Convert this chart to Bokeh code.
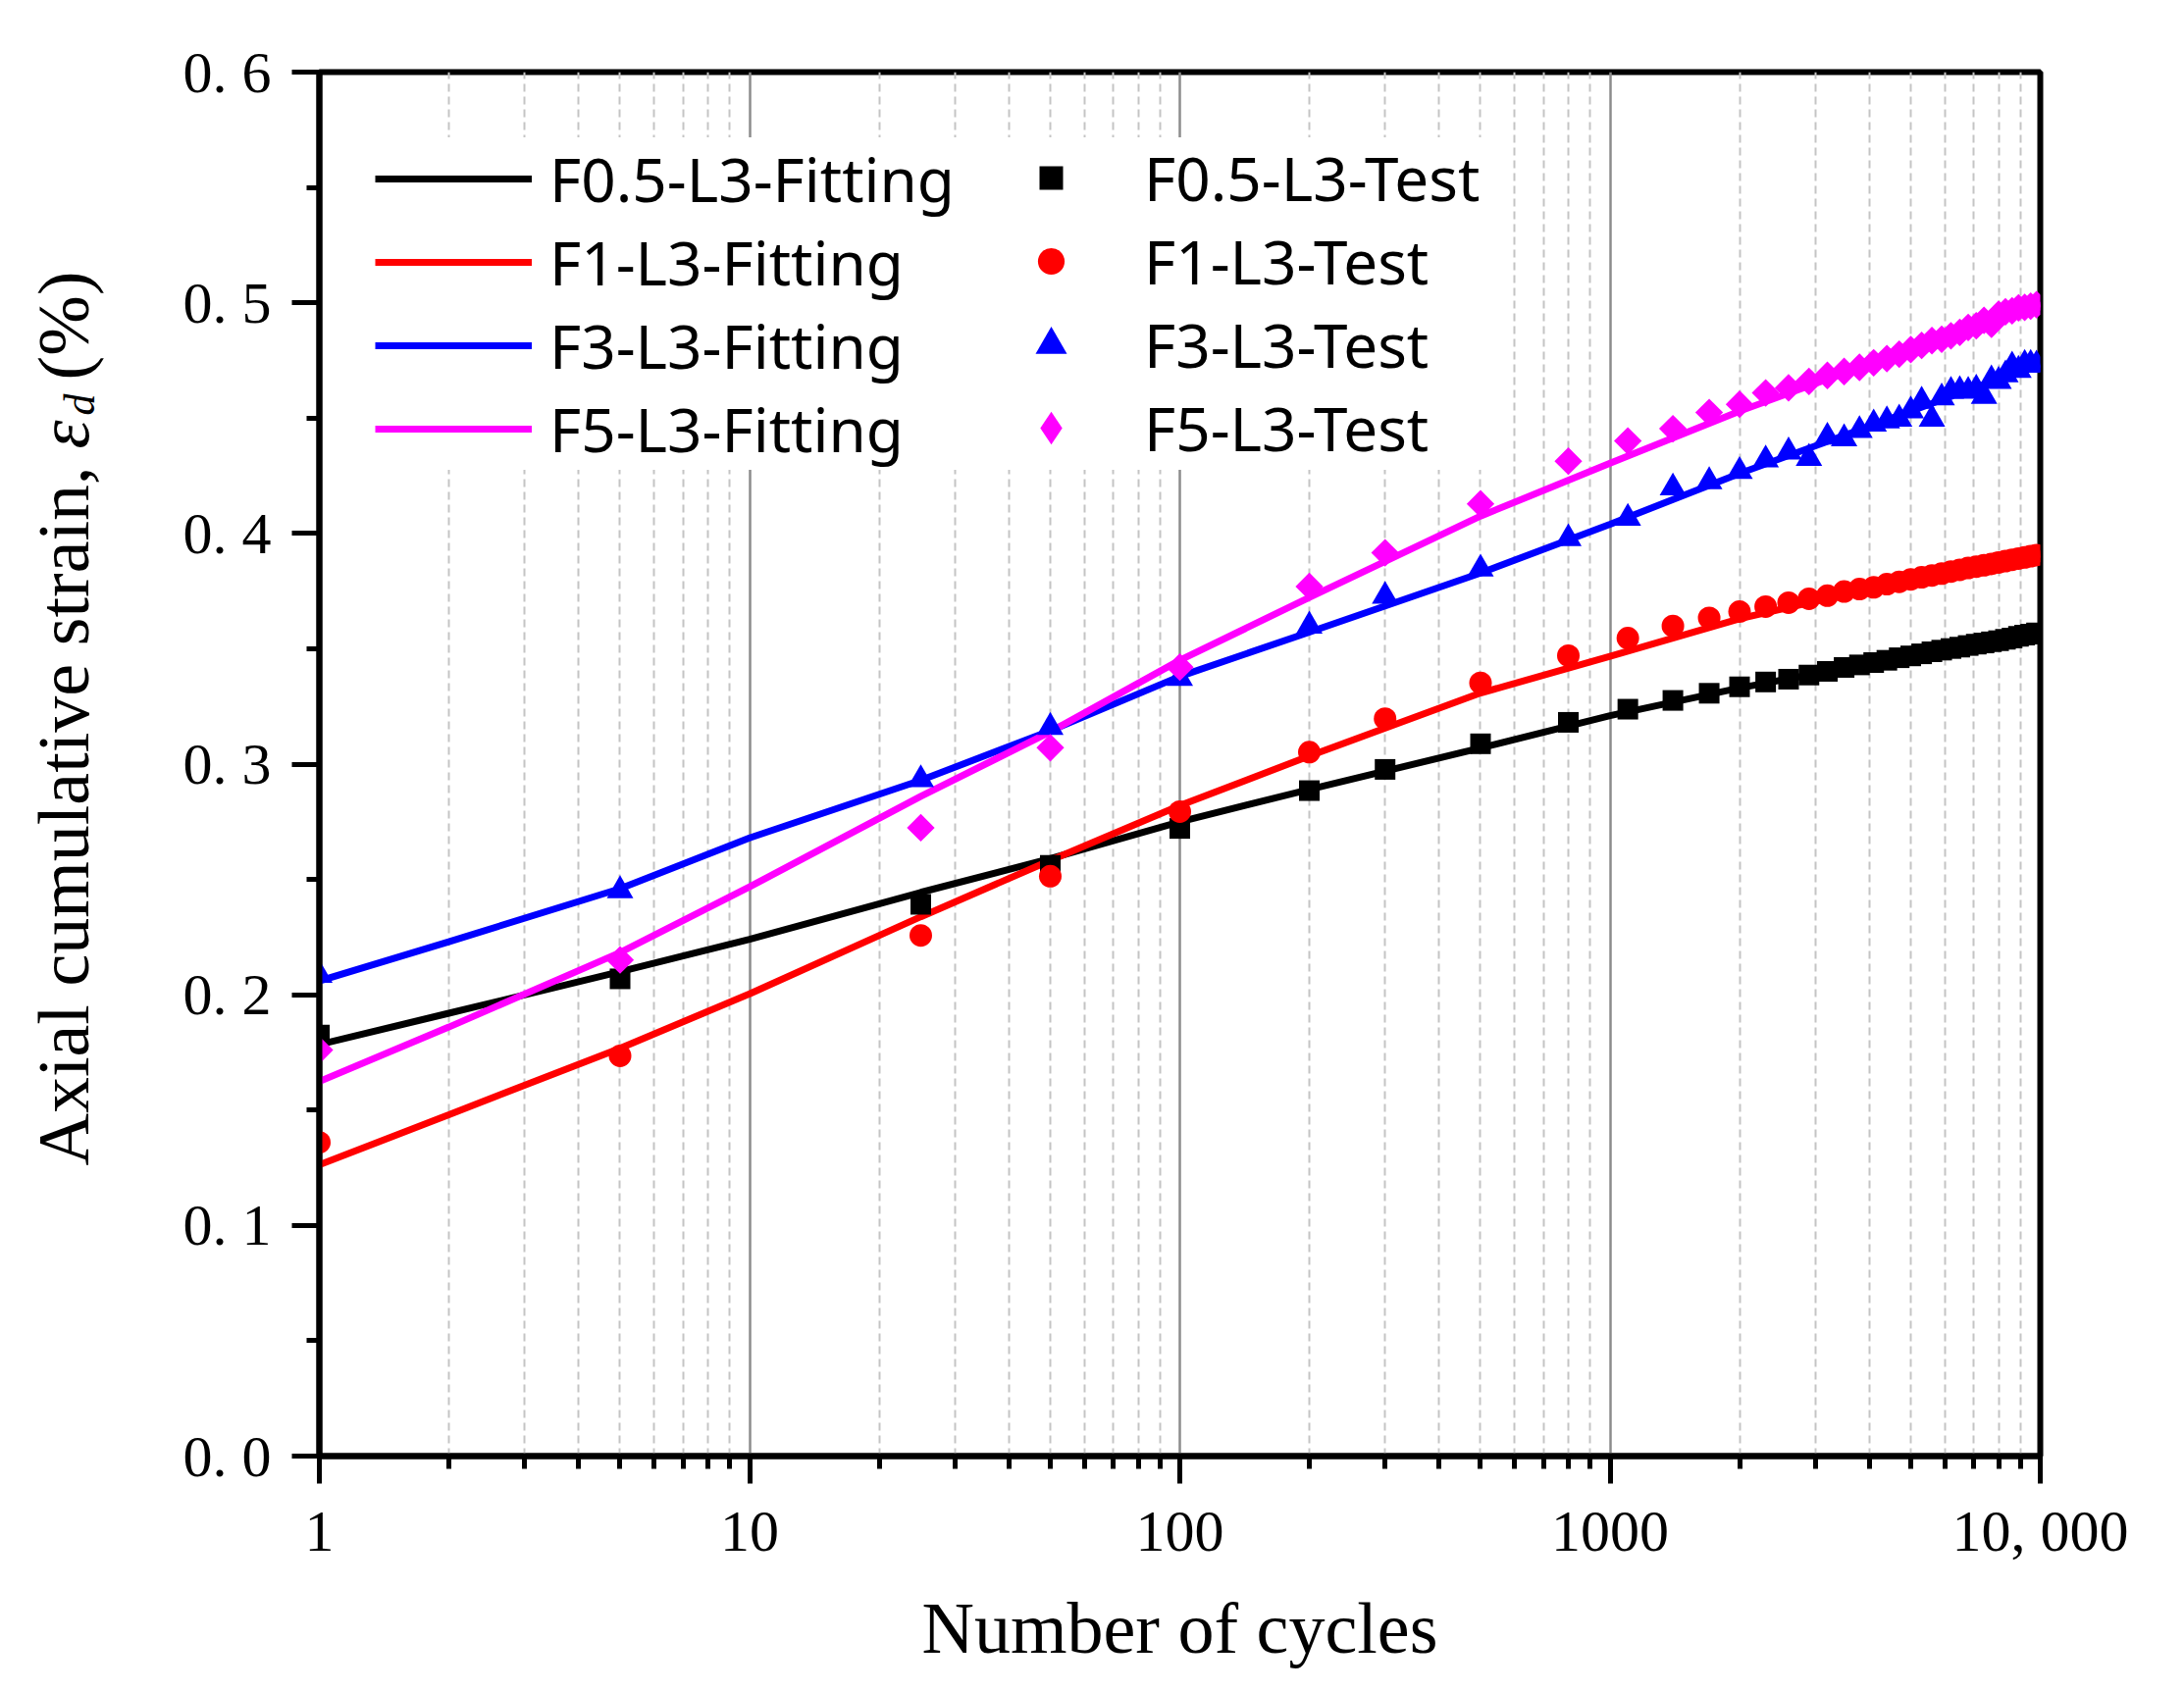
import math
from bokeh.plotting import figure
from bokeh.layouts import row
from bokeh.models import Range1d, FixedTicker, Legend, LegendItem, Label
from bokeh.embed import file_html
from bokeh.resources import INLINE

# ---------------- data ----------------
cycles_test = [1, 5, 25, 50, 100, 200, 300, 500, 800, 1100, 1400, 1700, 2000,
               2300, 2600, 2900, 3200, 3500, 3800, 4100, 4400, 4700, 5000, 5300,
               5600, 5900, 6200, 6500, 6800, 7100, 7400, 7700, 8000, 8300, 8600,
               8900, 9200, 9500, 9800]

f05_test = [0.1825, 0.2069, 0.2392, 0.2561, 0.2721, 0.2885, 0.2977, 0.3088, 0.3181,
            0.3238, 0.3276, 0.3307, 0.3335, 0.3356, 0.3368, 0.3386, 0.3402, 0.3419,
            0.3430, 0.3440, 0.3450, 0.3461, 0.3469, 0.3478, 0.3487, 0.3494, 0.3501,
            0.3507, 0.3514, 0.3520, 0.3525, 0.3530, 0.3535, 0.3541, 0.3546, 0.3554,
            0.3559, 0.3563, 0.3569]

f1_test = [0.1360, 0.1735, 0.2257, 0.2514, 0.2794, 0.3052, 0.3197, 0.3352, 0.3470,
           0.3546, 0.3599, 0.3634, 0.3661, 0.3683, 0.3700, 0.3717, 0.3730, 0.3748,
           0.3759, 0.3766, 0.3780, 0.3790, 0.3801, 0.3810, 0.3818, 0.3826, 0.3835,
           0.3842, 0.3850, 0.3856, 0.3862, 0.3868, 0.3874, 0.3880, 0.3886, 0.3891,
           0.3896, 0.3901, 0.3906]

f3_test = [0.2085, 0.2452, 0.2933, 0.3160, 0.3372, 0.3599, 0.3728, 0.3846, 0.3978,
           0.4066, 0.4198, 0.4225, 0.4269, 0.4319, 0.4354, 0.4326, 0.4418, 0.4411,
           0.4447, 0.4475, 0.4489, 0.4496, 0.4532, 0.4574, 0.4496, 0.4588, 0.4617,
           0.4620, 0.4617, 0.4626, 0.4595, 0.4666, 0.4660, 0.4688, 0.4726, 0.4708,
           0.4734, 0.4734, 0.4730]

f5_test = [0.1760, 0.2151, 0.2724, 0.3071, 0.3420, 0.3770, 0.3916, 0.4128, 0.4313,
           0.4401, 0.4454, 0.4524, 0.4560, 0.4609, 0.4631, 0.4659, 0.4685, 0.4702,
           0.4720, 0.4740, 0.4758, 0.4777, 0.4797, 0.4815, 0.4836, 0.4842, 0.4857,
           0.4872, 0.4893, 0.4900, 0.4924, 0.4907, 0.4950, 0.4961, 0.4965, 0.4978,
           0.4980, 0.4985, 0.4992]

cycles_fit = [1, 2, 5, 10, 25, 50, 100, 200, 500, 1000, 2000, 5000, 10000]
f05_fit = [0.1784, 0.192, 0.210, 0.224, 0.2444, 0.259, 0.275, 0.289, 0.307, 0.321, 0.333, 0.347, 0.357]
f1_fit = [0.1263, 0.148, 0.1768, 0.2004, 0.2338, 0.2582, 0.282, 0.3035, 0.3308, 0.3467, 0.363, 0.380, 0.391]
f3_fit = [0.206, 0.223, 0.246, 0.268, 0.293, 0.3145, 0.338, 0.3572, 0.3828, 0.404, 0.426, 0.453, 0.4735]
f5_fit = [0.1624, 0.186, 0.2183, 0.2468, 0.286, 0.314, 0.345, 0.3722, 0.4075, 0.4304, 0.453, 0.480, 0.4995]

series_names = ["F0.5-L3", "F1-L3", "F3-L3", "F5-L3"]
series_colors = ["#000000", "#ff0000", "#0000ff", "#ff00ff"]

x_major = [1, 10, 100, 1000, 10000]
x_labels = ["1", "10", "100", "1000", "10, 000"]
x_minor = [m * 10 ** e for e in range(4) for m in range(2, 10)]
y_major = [0.0, 0.1, 0.2, 0.3, 0.4, 0.5, 0.6]
y_labels = ["0. 0", "0. 1", "0. 2", "0. 3", "0. 4", "0. 5", "0. 6"]
y_minor = [0.05, 0.15, 0.25, 0.35, 0.45, 0.55]

x_title = "Number of cycles"
y_title_parts = ["Axial cumulative strain, ", "\u03b5", "d", "(%)"]

# ---------------- layout constants (pixels) ----------------
FRAME_W, FRAME_H = 1754, 1411
LEFT, TOP = 325, 73          # frame position on the page
TITLE_W = 150                # strip holding the rotated y-axis title
FIG_W, FIG_H = 2210, 1708
MAIN_W = FIG_W - TITLE_W
BOTTOM = FIG_H - TOP - FRAME_H

# ---------------- main figure ----------------
p = figure(width=MAIN_W, height=FIG_H, x_axis_type="log",
           x_range=Range1d(1, 10000), y_range=Range1d(0, 0.6),
           output_backend="svg", toolbar_location=None,
           min_border_left=LEFT - TITLE_W, min_border_right=MAIN_W - (LEFT - TITLE_W) - FRAME_W,
           min_border_top=TOP, min_border_bottom=BOTTOM)
p.background_fill_color = "white"
p.border_fill_color = "white"
p.outline_line_color = "black"
p.outline_line_width = 6

xt = FixedTicker(ticks=x_major, minor_ticks=x_minor)
yt = FixedTicker(ticks=y_major, minor_ticks=y_minor)
p.xaxis.ticker = xt
p.yaxis.ticker = yt
p.xaxis.major_label_overrides = {v: s for v, s in zip(x_major, x_labels)}
p.yaxis.major_label_overrides = {v: s for v, s in zip(y_major, y_labels)}

for ax in (p.xaxis[0], p.yaxis[0]):
    ax.axis_line_width = 6
    ax.axis_line_color = "black"
    ax.major_tick_line_width = 5
    ax.minor_tick_line_width = 5
    ax.major_tick_line_color = "black"
    ax.minor_tick_line_color = "black"
    ax.major_tick_in = 0
    ax.major_tick_out = 28
    ax.minor_tick_in = 0
    ax.minor_tick_out = 13
    ax.major_label_text_font = "Liberation Serif"
    ax.major_label_text_font_size = "60px"
    ax.major_label_text_color = "black"
p.xaxis.major_label_standoff = 15
p.yaxis.major_label_standoff = 21

p.xaxis.axis_label = x_title
p.xaxis.axis_label_text_font = "Liberation Serif"
p.xaxis.axis_label_text_font_size = "74px"
p.xaxis.axis_label_text_font_style = "normal"
p.xaxis.axis_label_text_color = "black"
p.xaxis.axis_label_standoff = 22

p.ygrid.visible = False
p.xgrid.ticker = xt
p.xgrid.grid_line_color = "#8c8c8c"
p.xgrid.grid_line_width = 2.5
p.xgrid.minor_grid_line_color = "#c4c4c4"
p.xgrid.minor_grid_line_width = 2
p.xgrid.minor_grid_line_dash = "8 5"

# ---------------- data renderers ----------------
fits = [f05_fit, f1_fit, f3_fit, f5_fit]
tests = [f05_test, f1_test, f3_test, f5_test]
markers = [("square", 21, 0.0), ("circle", 23, 0.0), ("triangle", 27, 0.0),
           ("square", 20, math.pi / 4)]

fit_renderers = []
for ys, c in zip(fits, series_colors):
    fit_renderers.append(p.line(cycles_fit, ys, line_color=c, line_width=7))

test_renderers = []
for ys, c, (m, s, a) in zip(tests, series_colors, markers):
    test_renderers.append(p.scatter(cycles_test, ys, marker=m, size=s, angle=a,
                                    fill_color=c, line_color=c, line_width=0))

# legend key for the diamond series (legend markers are drawn unrotated)
diamond_key = p.scatter(cycles_test, f5_test, marker="diamond", size=30,
                        fill_color=series_colors[3], line_color=series_colors[3],
                        line_width=0, visible=False)
legend_test_renderers = test_renderers[:3] + [diamond_key]

# ---------------- legends ----------------
PAD = 6
leg_left = 388 - PAD
leg1 = Legend(items=[LegendItem(label=n + "-Fitting", renderers=[r])
                     for n, r in zip(series_names, fit_renderers)],
              location=(leg_left - LEFT, TOP + FRAME_H - 479),
              label_text_font="Noto Sans", label_text_font_size="62px",
              label_text_color="black", glyph_width=160, glyph_height=84,
              label_height=84, spacing=1, padding=PAD, margin=0,
              label_standoff=18, label_width=960,
              border_line_color=None, background_fill_color="white",
              background_fill_alpha=1.0)
p.add_layout(leg1)

# test column: one legend per entry so that each marker gets its own size
LEG_TOP = 133
ROW = 85
marker_cx = 1071
text_x = 1166
key_widths = [60, 68, 80, 84]   # legend marker size follows the glyph box width
for i, (n, r, w) in enumerate(zip(series_names, legend_test_renderers, key_widths)):
    row_c = LEG_TOP + PAD + 42 + ROW * i
    lg = Legend(items=[LegendItem(label=n + "-Test", renderers=[r])],
                location=(marker_cx - w / 2 - LEFT, TOP + FRAME_H - (row_c + 42)),
                label_text_font="Noto Sans", label_text_font_size="62px",
                label_text_color="black", glyph_width=w, glyph_height=84,
                label_height=84, spacing=0, padding=0, margin=0,
                label_standoff=int(round(text_x - (marker_cx + w / 2))),
                border_line_color=None, background_fill_alpha=0.0,
                inactive_fill_alpha=0.0)
    p.add_layout(lg)

# ---------------- y-axis title strip (rotated text, italic subscript) ----------------
# its frame is aligned with the main frame, so data y = page pixels from the figure bottom
t = figure(width=TITLE_W, height=FIG_H,
           x_range=Range1d(0, TITLE_W), y_range=Range1d(BOTTOM, FIG_H - TOP),
           output_backend="svg", toolbar_location=None,
           x_axis_location=None, y_axis_location=None,
           min_border_left=0, min_border_right=0,
           min_border_top=TOP, min_border_bottom=BOTTOM)
t.grid.visible = False
t.outline_line_color = None
t.background_fill_color = "white"
t.border_fill_color = "white"

BASE_X = 64        # text baseline position in the strip
lab = dict(x_units="data", y_units="data", angle=math.pi / 2,
           text_font="Liberation Serif", text_color="black",
           text_baseline="alphabetic", text_align="left")
t.add_layout(Label(x=BASE_X, y=FIG_H - 1188, text=y_title_parts[0],
                   text_font_size="74px", **lab))
t.add_layout(Label(x=BASE_X, y=FIG_H - 457, text=y_title_parts[1],
                   text_font_size="74px", text_font_style="italic", **lab))
t.add_layout(Label(x=BASE_X + 17, y=FIG_H - 423, text=y_title_parts[2],
                   text_font_size="44px", text_font_style="italic", **lab))
t.add_layout(Label(x=BASE_X, y=FIG_H - 387, text=y_title_parts[3],
                   text_font_size="74px", **lab))

layout = row(t, p, spacing=0)
open("out.html", "w").write(file_html(layout, INLINE))
